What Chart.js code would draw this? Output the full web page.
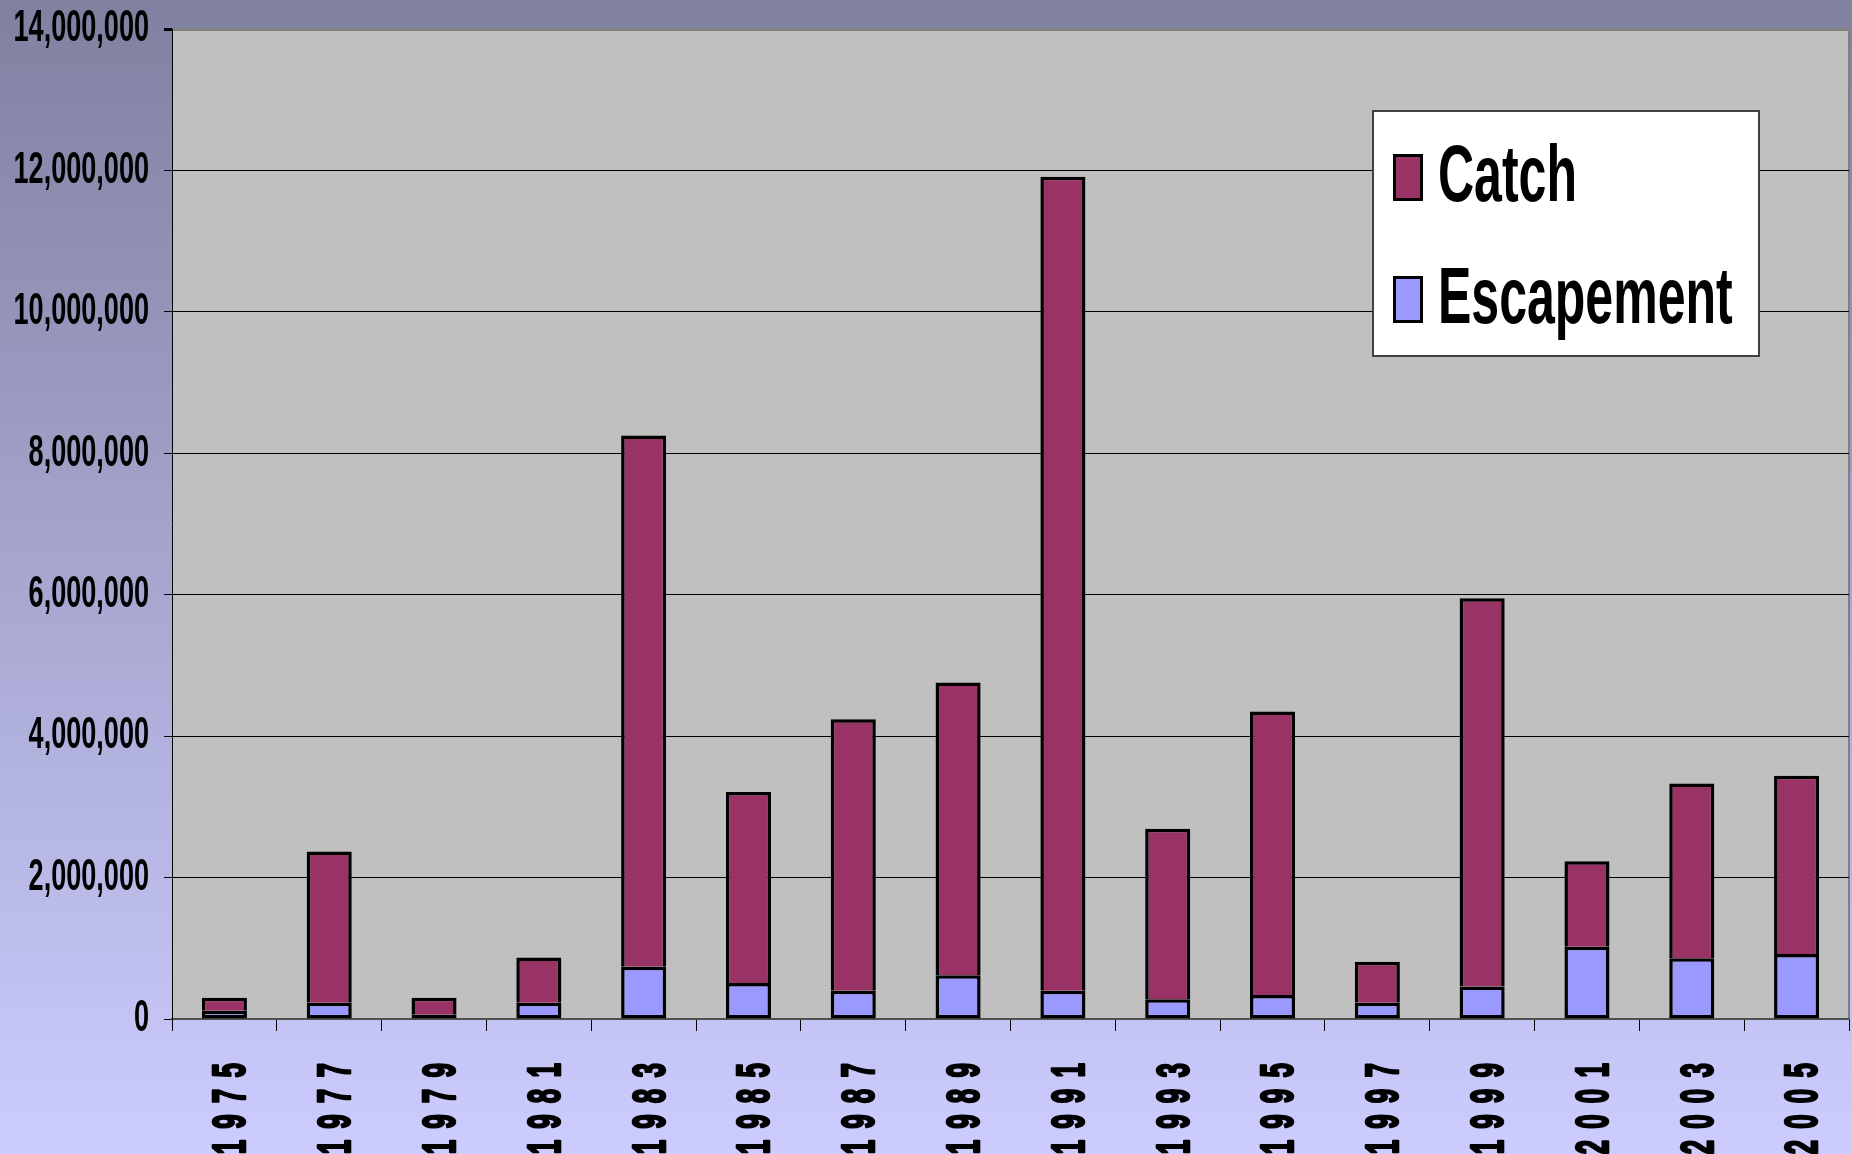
<!DOCTYPE html>
<html>
<head>
<meta charset="utf-8">
<script src="https://cdn.jsdelivr.net/npm/chart.js@4.4.1/dist/chart.umd.min.js"></script>
<style>
  html, body { margin: 0; padding: 0; background: #ccccff; }
  #wrap { position: relative; width: 1852px; height: 1154px; overflow: hidden; }
  #c { position: absolute; left: 0; top: 0; }
  #legend {
    position: absolute; left: 1372px; top: 110px; width: 388px; height: 247px;
    box-sizing: border-box; background: #ffffff; border: 2px solid #404040;
  }
  .sw { position: absolute; left: 19px; width: 30px; height: 47px; box-sizing: border-box; border: 3px solid #000; }
  .lt {
    position: absolute; left: 64px; white-space: nowrap;
    font: bold 61px 'Liberation Sans', Arial, sans-serif;
    line-height: 61px; color: #000;
    transform: scale(0.82, 1.3); transform-origin: 0 51.6px;
  }
</style>
</head>
<body>
<div id="wrap">
  <canvas id="c" width="1852" height="1154"></canvas>
  <div id="legend"></div>
</div>
<script>
// ---- data ----
const years = ['1975','1977','1979','1981','1983','1985','1987','1989','1991','1993','1995','1997','1999','2001','2003','2005'];
const escapement = [115000, 230000, 60000, 230000, 740000, 510000, 400000, 620000, 400000, 280000, 340000, 230000, 460000, 1020000, 860000, 920000];
const catchValues = [185000, 2140000, 240000, 640000, 7510000, 2700000, 3840000, 4140000, 11510000, 2410000, 4010000, 580000, 5490000, 1210000, 2470000, 2520000];
const yTicks = [0, 2000000, 4000000, 6000000, 8000000, 10000000, 12000000, 14000000];

const seriesNames = ['Escapement', 'Catch'];
const seriesColors = ['#9999ff', '#993366'];

const FONT = "'Liberation Sans', Arial, sans-serif";

// Tick labels drawn from the library's own label items, with a glyph stretch and letter spacing
function stretchedDrawLabels(chartArea) {
  const t = this.options.ticks;
  if (!t.display) return;
  const ctx = this.ctx;
  const sx = t.stretchX || 1;
  const sy = t.stretchY || 1;
  const ls = t.letterSpacing || '0px';
  const sw = t.strokeW || 0;
  const items = this.getLabelItems(chartArea);
  for (const item of items) {
    const o = item.options;
    ctx.save();
    ctx.translate(o.translation[0], o.translation[1]);
    if (o.rotation) ctx.rotate(o.rotation);
    ctx.scale(sx, sy);
    ctx.letterSpacing = ls;
    ctx.font = item.font.string;
    ctx.fillStyle = o.color;
    ctx.textAlign = o.textAlign;
    ctx.textBaseline = o.textBaseline;
    const txt = String(item.label);
    const y = item.textOffset / sy;
    if (sw > 0) {
      ctx.lineWidth = sw;
      ctx.strokeStyle = o.color;
      ctx.lineJoin = 'round';
      ctx.strokeText(txt, 0, y);
    }
    ctx.fillText(txt, 0, y);
    ctx.restore();
  }
}
class StretchLinear extends Chart.LinearScale {
  drawLabels(a) { stretchedDrawLabels.call(this, a); }
}
StretchLinear.id = 'stretchLinear';
StretchLinear.defaults = Chart.LinearScale.defaults;
class StretchCategory extends Chart.CategoryScale {
  drawLabels(a) { stretchedDrawLabels.call(this, a); }
}
StretchCategory.id = 'stretchCategory';
StretchCategory.defaults = Chart.CategoryScale.defaults;
Chart.register(StretchLinear, StretchCategory);

const bgPlugin = {
  id: 'bgPlugin',
  beforeDraw(chart) {
    const { ctx, width, height, chartArea: a } = chart;
    ctx.save();
    const g = ctx.createLinearGradient(0, 0, 0, height);
    g.addColorStop(0, '#8080a0');
    g.addColorStop(1, '#ccccff');
    ctx.fillStyle = g;
    ctx.fillRect(0, 0, width, height);
    ctx.fillStyle = '#c0c0c0';
    ctx.fillRect(a.left, a.top, a.right - a.left, a.bottom - a.top);
    ctx.fillStyle = '#808080';
    ctx.fillRect(a.right - 1, a.top, 2, a.bottom - a.top);
    ctx.restore();
  }
};

const BW = 3.5;
const chart = new Chart(document.getElementById('c'), {
  type: 'bar',
  data: {
    labels: years,
    datasets: [
      { label: seriesNames[0], data: escapement, backgroundColor: seriesColors[0], borderColor: '#000',
        borderWidth: BW, borderSkipped: false },
      { label: seriesNames[1], data: catchValues, backgroundColor: seriesColors[1], borderColor: '#000',
        borderWidth: { top: BW, left: BW, right: BW, bottom: 0 }, borderSkipped: false }
    ]
  },
  options: {
    responsive: false,
    devicePixelRatio: 1,
    animation: false,
    events: [],
    layout: { padding: { top: 29, right: 3, left: 0, bottom: 0 } },
    datasets: { bar: { barPercentage: 0.43, categoryPercentage: 1.0 } },
    plugins: { legend: { display: false }, tooltip: { enabled: false }, title: { display: false } },
    scales: {
      x: {
        type: 'stretchCategory',
        stacked: true,
        offset: true,
        grid: { offset: true, drawOnChartArea: false, drawTicks: true, tickLength: 12, tickColor: '#000', tickWidth: 1 },
        border: { display: true, color: '#505050', width: 2 },
        ticks: {
          autoSkip: false, minRotation: 90, maxRotation: 90, padding: 21, labelOffset: 8,
          color: '#000', font: { family: FONT, size: 36, weight: 'bold' },
          stretchX: 0.72, stretchY: 1.3, letterSpacing: '15.5px', strokeW: 2
        },
        afterFit(s) { s.height = 135; s.paddingLeft = 0; s.paddingRight = 0; }
      },
      y: {
        type: 'stretchLinear',
        stacked: true,
        min: 0, max: 14000000,
        afterBuildTicks(s) { s.ticks = yTicks.map(v => ({ value: v })); },
        grid: {
          drawTicks: true, tickLength: 8, tickColor: '#000',
          color: (c) => c.tick && c.tick.value === 14000000 ? '#808080' : (c.tick && c.tick.value === 0 ? '#505050' : '#000'),
          lineWidth: (c) => c.tick && c.tick.value === 14000000 ? 3 : 1
        },
        border: { display: true, color: '#000', width: 1 },
        ticks: {
          padding: 15, color: '#000',
          font: { family: FONT, size: 33, weight: 'bold' },
          stretchX: 0.82, stretchY: 1.35,
          callback: (v) => Number(v).toLocaleString('en-US')
        },
        afterFit(s) { s.width = 172; s.paddingTop = 0; s.paddingBottom = 0; }
      }
    }
  },
  plugins: [bgPlugin]
});

// Legend built from the chart's datasets (Catch first, as in the reference)
const legend = document.getElementById('legend');
const order = chart.data.datasets.map((d, i) => i).reverse();
const swTops = [42, 164];
const txtTops = [38.4, 160.4];
order.forEach((di, row) => {
  const ds = chart.data.datasets[di];
  const sw = document.createElement('div');
  sw.className = 'sw';
  sw.style.top = swTops[row] + 'px';
  sw.style.background = ds.backgroundColor;
  legend.appendChild(sw);
  const t = document.createElement('span');
  t.className = 'lt';
  t.style.top = txtTops[row] + 'px';
  t.textContent = ds.label;
  legend.appendChild(t);
});
</script>
</body>
</html>
